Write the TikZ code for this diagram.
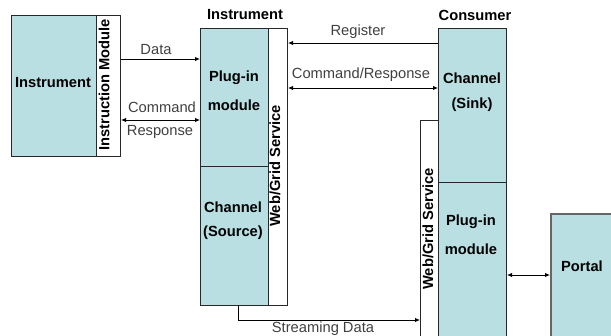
\documentclass[tikz,border=0pt]{standalone}
\usepackage{fontspec}
\setmainfont{Liberation Sans}
\usetikzlibrary{arrows.meta}
\definecolor{boxfill}{RGB}{185,223,226}
\definecolor{boxline}{RGB}{40,40,40}
\tikzset{
  x=1pt, y=-1pt,
  panel/.style={draw=boxline, line width=1pt, fill=boxfill, anchor=north west, inner sep=0pt},
  strip/.style={draw=boxline, line width=1pt, fill=white, anchor=north west, inner sep=0pt},
  boxtext/.style={font=\fontsize{14.7}{17}\selectfont\bfseries, inner sep=0pt},
  flowtext/.style={font=\fontsize{14.7}{17}\selectfont, text=black!75, inner sep=0pt},
  flow/.style={draw=black, line width=0.9pt, -{Latex[length=5pt,width=4.5pt]}},
  dflow/.style={draw=black, line width=0.9pt, {Latex[length=5pt,width=4.5pt]}-{Latex[length=5pt,width=4.5pt]}},
}
\begin{document}
\begin{tikzpicture}
\useasboundingbox (0,0) rectangle (611,335);
\clip (0,0) rectangle (611,335);

% Instrument with its instruction module
\node[panel, minimum width=85pt, minimum height=141pt] (inst) at (11,15) {};
\node[strip, minimum width=24pt, minimum height=141pt] (instmod) at (96,15) {};
\node[boxtext] (instlbl) at (53,83) {Instrument};
\node[boxtext, rotate=90] (instmodlbl) at (104,85) {Instruction Module};

% Instrument side: plug-in module, source channel and web/grid service
\node[strip, minimum width=19pt, minimum height=277pt] (ws1) at (268,28) {};
\node[panel, minimum width=68pt, minimum height=138pt] (plug1) at (200,28) {};
\node[panel, minimum width=68pt, minimum height=139pt] (src) at (200,166) {};
\node[boxtext] (plug1a) at (234,78) {Plug-in};
\node[boxtext] (plug1b) at (234,105) {module};
\node[boxtext] (srca) at (233,207) {Channel};
\node[boxtext] (srcb) at (233,233) {(Source)};
\node[boxtext, rotate=90] (ws1lbl) at (275,166) {Web/Grid Service};
\node[boxtext] (insttitle) at (245,15) {Instrument};

% Consumer side: sink channel, plug-in module and web/grid service
\node[strip, minimum width=18pt, minimum height=230pt] (ws2) at (420,120) {};
\node[panel, minimum width=68pt, minimum height=154pt] (sink) at (438,28) {};
\node[panel, minimum width=68pt, minimum height=170pt] (plug2) at (438,182) {};
\node[boxtext] (sinka) at (472,78) {Channel};
\node[boxtext] (sinkb) at (472,105) {(Sink)};
\node[boxtext] (plug2a) at (471,222) {Plug-in};
\node[boxtext] (plug2b) at (471,249) {module};
\node[boxtext, rotate=90] (ws2lbl) at (428,229) {Web/Grid Service};
\node[boxtext] (constitle) at (475,15) {Consumer};

% Portal
\node[panel, draw=black!60, line width=1.6pt, minimum width=80pt, minimum height=140pt] (portal) at (550,213) {};
\node[boxtext] (portallbl) at (582,266) {Portal};

% Connector end points
\coordinate (dataA) at (instmod.east |- 0,59);
\coordinate (dataB) at (plug1.west |- 0,59);
\coordinate (cmdA) at (instmod.east |- 0,120);
\coordinate (cmdB) at (plug1.west |- 0,120);
\coordinate (regA) at (sink.west |- 0,43);
\coordinate (regB) at (ws1.east |- 0,43);
\coordinate (crA) at (ws1.east |- 0,88);
\coordinate (crB) at (sink.west |- 0,88);
\coordinate (strA) at (238,305);
\coordinate (strBend) at (238,320);
\coordinate (strB) at (ws2.west |- 0,320);
\coordinate (portA) at (plug2.east |- 0,275);
\coordinate (portB) at (portal.west |- 0,275);

% Connectors
\draw[flow] (dataA) -- (dataB);
\draw[dflow] (cmdA) -- (cmdB);
\draw[flow] (regA) -- (regB);
\draw[dflow] (crA) -- (crB);
\draw[flow] (strA) -- (strBend) -- (strB);
\draw[dflow] (portA) -- (portB);

% Connector labels
\node[flowtext] (datalbl) at (156,50) {Data};
\node[flowtext] (cmdlbl) at (162,107) {Command};
\node[flowtext] (resplbl) at (160,132) {Response};
\node[flowtext] (reglbl) at (358,32) {Register};
\node[flowtext] (crlbl) at (361,75) {Command/Response};
\node[flowtext] (strlbl) at (323,329) {Streaming Data};
\end{tikzpicture}
\end{document}
